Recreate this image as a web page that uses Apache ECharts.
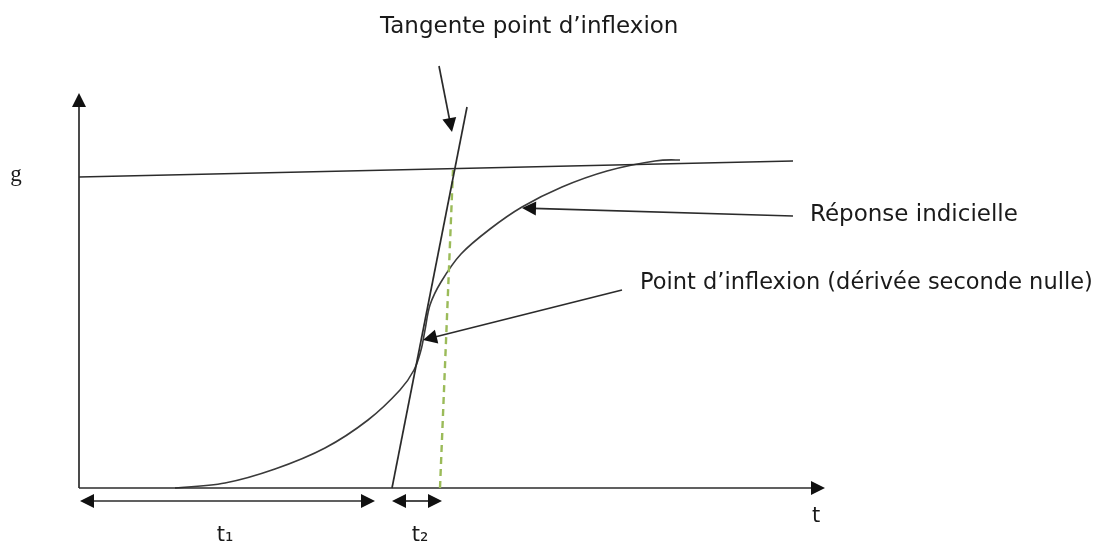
<!DOCTYPE html>
<html><head><meta charset="utf-8">
<script src="https://cdn.jsdelivr.net/npm/echarts@6/dist/echarts.min.js"></script>
<style>html,body{margin:0;padding:0;background:#fff}#c{width:1096px;height:549px}</style>
</head><body><div id="c"></div>
<script>
// Data coordinates: origin at the intersection of the drawn axes (t = 0, response = 0)
const responseCurve = [[96,0],[146,5],[196,19],[246,40],[289,68],[321,98],[335,118],[342,138],[346,158],
  [351,183],[362,206],[382,234],[411,259],[443,281],[483,301],[528,317],[576,327],[601,328]];
const asymptote = [[0,311],[714,327]];
const tangent = [[313,0],[388,381]];
const verticalGuide = [[361,0],[374,318]];
// arrows: x1, y1, x2, y2, head at start (1/0), head at end (1/0)
const yAxisArrow = [0,0,0,395,0,1];
const tAxisArrow = [0,0,746,0,0,1];
const t1Span = [1,-13,296,-13,1,1];
const t2Span = [313,-13,363,-13,1,1];
const tangentPointer = [360,422,373,356,0,1];
const responsePointer = [714,272,443,280,0,1];
const inflexionPointer = [543,198,344,148,0,1];
const arrows = [yAxisArrow, tAxisArrow, t1Span, t2Span, tangentPointer, responsePointer, inflexionPointer];
// annotation anchors and texts
const labelTexts = ['Tangente point d\u2019inflexion','g','R\u00e9ponse indicielle',
  'Point d\u2019inflexion (d\u00e9riv\u00e9e seconde nulle)','t','t\u2081','t\u2082'];
const labelAnchors = [[301,461],[-63,313],[731,273],[561,205],[737,-29],[146,-48],[341,-48]];

const labelStyles = [
  {align:'left', family:'DejaVu Sans', size:23},
  {align:'center', family:'Liberation Serif', size:23},
  {align:'left', family:'DejaVu Sans', size:23},
  {align:'left', family:'DejaVu Sans', size:22.5},
  {align:'center', family:'DejaVu Sans', size:21},
  {align:'center', family:'DejaVu Sans', size:21},
  {align:'center', family:'DejaVu Sans', size:21}
];
const ink = '#2b2b2b';

const chart = echarts.init(document.getElementById('c'));
chart.setOption({
  animation:false,
  backgroundColor:'#fff',
  grid:{left:0,right:0,top:0,bottom:0},
  xAxis:{type:'value',min:-79,max:1017,show:false},
  yAxis:{type:'value',min:-61,max:488,show:false},
  series:[
    {type:'line',data:asymptote,showSymbol:false,lineStyle:{color:ink,width:1.6}},
    {type:'line',data:verticalGuide,showSymbol:false,lineStyle:{color:'#9bbb59',width:2.4,type:[7,5]}},
    {type:'line',data:tangent,showSymbol:false,lineStyle:{color:ink,width:1.7}},
    {type:'custom',data:responseCurve,encode:{x:0,y:1},
     renderItem:function(params,api){
       if (params.dataIndex !== 0) return null;
       const P = responseCurve.map(v=>api.coord(v));
       let d = 'M' + P[0][0] + ' ' + P[0][1];
       for (let i=0;i<P.length-1;i++){
         const p0 = P[Math.max(i-1,0)], p1 = P[i], p2 = P[i+1], p3 = P[Math.min(i+2,P.length-1)];
         const c1 = [p1[0]+(p2[0]-p0[0])/6, p1[1]+(p2[1]-p0[1])/6];
         const c2 = [p2[0]-(p3[0]-p1[0])/6, p2[1]-(p3[1]-p1[1])/6];
         d += ' C'+c1[0]+' '+c1[1]+' '+c2[0]+' '+c2[1]+' '+p2[0]+' '+p2[1];
       }
       return {type:'path',shape:{pathData:d},style:{fill:null,stroke:'#3a3a3a',lineWidth:1.6}};
     }},
    {type:'custom',data:arrows,encode:{x:[0,2],y:[1,3]},
     renderItem:function(params,api){
       const p1 = api.coord([api.value(0),api.value(1)]);
       const p2 = api.coord([api.value(2),api.value(3)]);
       const hs = api.value(4), he = api.value(5);
       const dx = p2[0]-p1[0], dy = p2[1]-p1[1];
       const len = Math.sqrt(dx*dx+dy*dy), ux = dx/len, uy = dy/len;
       const L = 14, W = 7;
       const children = [];
       const a = hs ? [p1[0]+ux*L*0.8,p1[1]+uy*L*0.8] : p1;
       const b = he ? [p2[0]-ux*L*0.8,p2[1]-uy*L*0.8] : p2;
       children.push({type:'line',shape:{x1:a[0],y1:a[1],x2:b[0],y2:b[1]},style:{stroke:ink,lineWidth:1.7}});
       function head(tip, dirx, diry){
         const bx = tip[0]-dirx*L, by = tip[1]-diry*L;
         return {type:'polygon',shape:{points:[tip,[bx-diry*W,by+dirx*W],[bx+diry*W,by-dirx*W]]},style:{fill:'#111'}};
       }
       if (he) children.push(head(p2,ux,uy));
       if (hs) children.push(head(p1,-ux,-uy));
       return {type:'group',children:children};
     }},
    {type:'custom',data:labelAnchors.map((p,i)=>[p[0],p[1],i]),encode:{x:0,y:1},
     renderItem:function(params,api){
       const i = api.value(2);
       const p = api.coord([api.value(0),api.value(1)]);
       const s = labelStyles[i];
       return {type:'text',x:p[0],y:p[1],style:{text:labelTexts[i],fill:'#1a1a1a',
         fontFamily:s.family,fontSize:s.size,align:s.align,verticalAlign:'middle'}};
     }}
  ]
});
</script></body></html>
